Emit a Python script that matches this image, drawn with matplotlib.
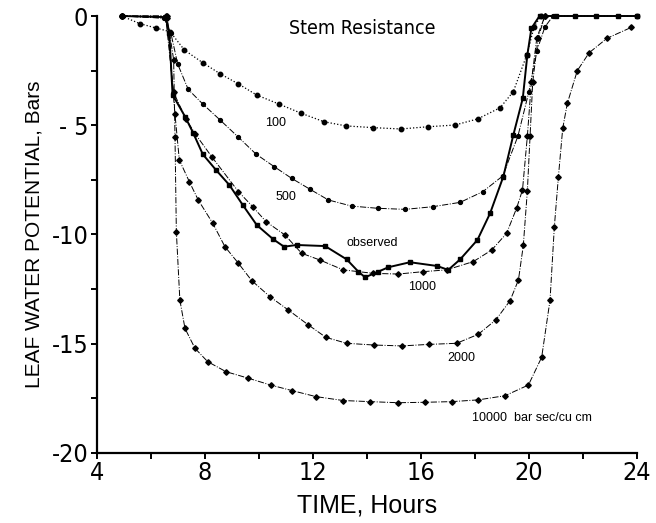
import matplotlib
matplotlib.use("Agg")
import matplotlib.pyplot as plt
from matplotlib.ticker import MultipleLocator

# observed leaf water potential
obs_x = [4.93, 6.55, 6.69, 6.81, 7.27, 7.58, 7.93, 8.42, 8.91, 9.41, 9.93, 10.54, 10.94, 11.4,
         12.46, 13.26, 13.69, 13.94, 14.43, 14.8, 15.6, 16.6, 17.02, 17.46, 18.1, 18.57,
         19.06, 19.43, 19.78, 19.95, 20.1, 20.4, 21.0, 21.7, 22.5, 23.3, 24.0]
obs_y = [0.0, -0.05, -0.8, -3.6, -4.6, -5.37, -6.33, -7.05, -7.73, -8.65, -9.57, -10.22, -10.56, -10.48,
         -10.53, -11.14, -11.7, -11.96, -11.7, -11.5, -11.27, -11.44, -11.62, -11.14, -10.25, -9.03,
         -7.35, -5.45, -3.77, -1.78, -0.56, 0.0, 0.0, 0.0, 0.0, 0.0, 0.0]

# simulated, stem resistance 100
r100_x = [4.93, 5.6, 6.2, 6.72, 7.25, 7.93, 8.58, 9.25, 9.93, 10.75, 11.57, 12.42, 13.23, 14.24,
          15.26, 16.26, 17.27, 18.11, 18.94, 19.43, 19.93, 20.2, 20.45, 24.0]
r100_y = [0.0, -0.35, -0.55, -0.72, -1.56, -2.14, -2.65, -3.11, -3.62, -4.03, -4.45, -4.84, -5.03, -5.11,
          -5.17, -5.07, -4.99, -4.71, -4.2, -3.46, -1.78, -0.5, 0.0, 0.0]

# stem resistance 500
r500_x = [4.93, 6.5, 6.75, 7.0, 7.39, 7.93, 8.57, 9.25, 9.9, 10.58, 11.22, 11.9, 12.58, 13.44, 14.4,
          15.42, 16.44, 17.46, 18.3, 19.04, 19.6, 20.0, 20.3, 20.6, 20.9]
r500_y = [0.0, -0.1, -0.8, -2.2, -3.36, -4.03, -4.76, -5.55, -6.32, -6.9, -7.43, -7.93, -8.42, -8.7, -8.8,
          -8.85, -8.73, -8.53, -8.04, -7.32, -5.5, -3.5, -1.6, -0.5, 0.0]

# stem resistance 1000
r1000_x = [4.93, 6.55, 6.85, 7.3, 7.65, 8.26, 9.25, 9.78, 10.27, 10.97, 11.59, 12.27, 13.13, 14.25,
           15.17, 16.1, 16.96, 17.95, 18.63, 19.18, 19.55, 19.77, 19.95, 20.1, 20.3, 20.6]
r1000_y = [0.0, 0.0, -3.5, -4.7, -5.4, -6.44, -8.04, -8.73, -9.41, -10.02, -10.86, -11.17, -11.62, -11.78,
           -11.81, -11.7, -11.62, -11.24, -10.71, -9.95, -8.8, -7.96, -5.5, -3.0, -1.0, 0.0]

# stem resistance 2000
r2000_x = [4.93, 6.6, 6.9, 7.06, 7.43, 7.76, 8.3, 8.75, 9.25, 9.74, 10.42, 11.1, 11.84, 12.49, 13.26,
           14.27, 15.3, 16.31, 17.33, 18.13, 18.78, 19.31, 19.62, 19.8, 19.95, 20.05, 20.15, 20.35, 20.6]
r2000_y = [0.0, -0.1, -4.5, -6.59, -7.58, -8.42, -9.49, -10.56, -11.32, -12.11, -12.85, -13.46, -14.14,
           -14.71, -14.98, -15.06, -15.1, -15.03, -14.98, -14.57, -13.91, -13.03, -12.08, -10.5, -8.0,
           -5.5, -3.0, -1.0, 0.0]

# stem resistance 10000
r10000_x = [4.93, 6.6, 6.85, 6.9, 6.95, 7.08, 7.27, 7.64, 8.11, 8.79, 9.62, 10.44, 11.25, 12.12, 13.13,
            14.12, 15.15, 16.16, 17.15, 18.13, 19.12, 19.99, 20.48, 20.79, 20.95, 21.1, 21.26, 21.43,
            21.8, 22.24, 22.9, 23.8]
r10000_y = [0.0, 0.0, -2.0, -5.52, -9.87, -13.0, -14.3, -15.21, -15.82, -16.28, -16.58, -16.89, -17.15,
            -17.42, -17.6, -17.65, -17.7, -17.68, -17.65, -17.57, -17.38, -16.89, -15.62, -13.0, -9.64,
            -7.35, -5.14, -4.0, -2.5, -1.68, -1.02, -0.52]

labels = ["100", "500", "observed", "1000", "2000", "10000  bar sec/cu cm"]
label_x = [10.61, 11.01, 14.2, 16.04, 17.49, 20.12]
label_y = [-4.88, -8.3, -10.39, -12.42, -15.64, -18.4]

fig = plt.figure(figsize=(6.56, 5.23), dpi=100)
ax = fig.add_axes([0.1474, 0.1339, 0.8232, 0.8355])

ax.plot(r100_x, r100_y, ls=":", lw=0.9, color="black", marker="o", ms=3.2, clip_on=False)
ax.plot(r500_x, r500_y, ls="-.", lw=0.7, color="black", marker="o", ms=2.8, clip_on=False)
ax.plot(r1000_x, r1000_y, ls="-.", lw=0.7, color="black", marker="D", ms=2.8, clip_on=False)
ax.plot(r2000_x, r2000_y, ls="-.", lw=0.7, color="black", marker="D", ms=2.8, clip_on=False)
ax.plot(r10000_x, r10000_y, ls="-.", lw=0.7, color="black", marker="D", ms=2.8, clip_on=False)
ax.plot(obs_x, obs_y, ls="-", lw=1.4, color="black", marker="s", ms=3.2, clip_on=False)

for t, x, y in zip(labels, label_x, label_y):
    ax.text(x, y, t, fontsize=9, ha="center", va="center", family="Liberation Sans")

ax.text(13.83, -0.55, "Stem Resistance", fontsize=14, ha="center", va="center",
        family="DejaVu Sans", stretch="condensed")

ax.set_xlim(4, 24)
ax.set_ylim(-20, 0)
ax.xaxis.set_major_locator(MultipleLocator(4))
ax.xaxis.set_minor_locator(MultipleLocator(2))
ax.yaxis.set_major_locator(MultipleLocator(5))
ax.yaxis.set_minor_locator(MultipleLocator(2.5))
ax.set_yticks([0, -5, -10, -15, -20])
ax.set_yticklabels(["0", "- 5", "-10", "-15", "-20"])

for s in ["top", "right"]:
    ax.spines[s].set_visible(False)
for s in ["left", "bottom"]:
    ax.spines[s].set_linewidth(1.6)

ax.tick_params(which="both", direction="out", length=4, width=1.4, pad=2)
for lab in ax.get_xticklabels() + ax.get_yticklabels():
    lab.set_fontsize(18)
    lab.set_family("DejaVu Sans")
    lab.set_stretch("condensed")

ax.set_xlabel("TIME, Hours", fontsize=18, family="Liberation Sans", labelpad=6)
ax.set_ylabel("LEAF WATER POTENTIAL, Bars", fontsize=15, family="Liberation Sans", labelpad=6)

fig.savefig("out.png", dpi=100)
